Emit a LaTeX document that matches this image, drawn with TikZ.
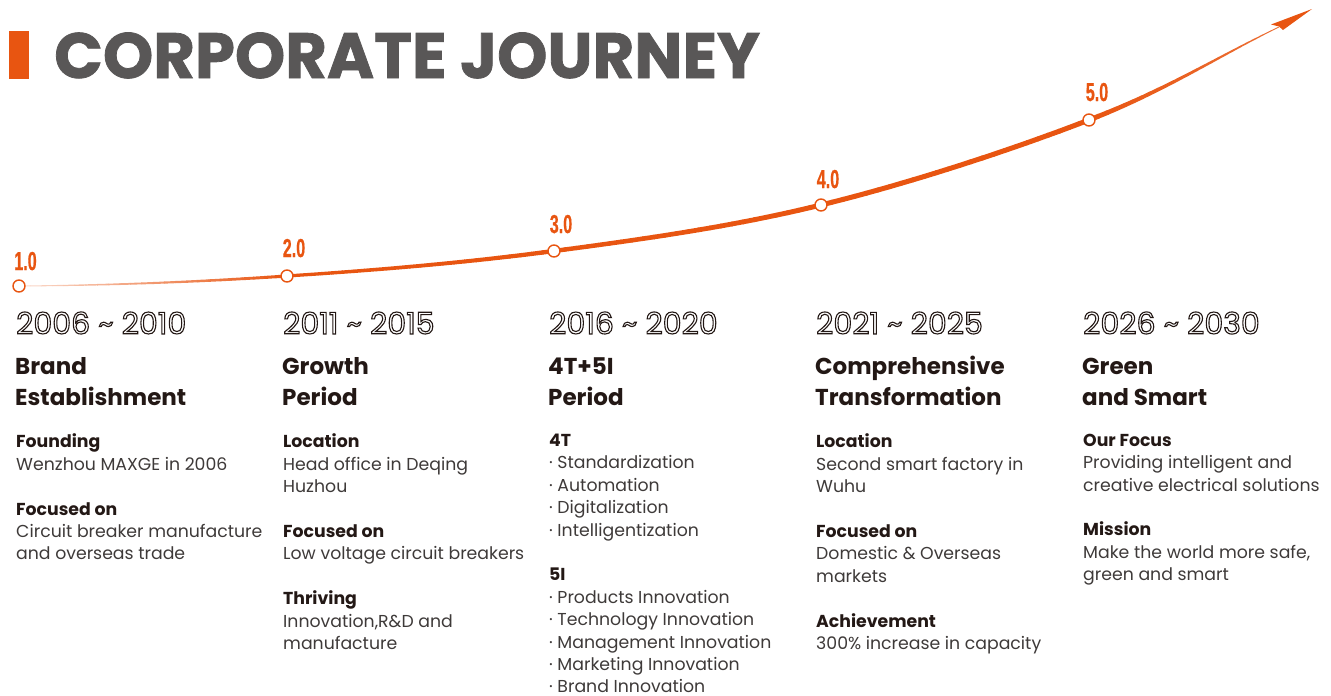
\documentclass[tikz,border=0pt]{standalone}
\usepackage{fontspec}
\setmainfont{Poppins}
\newfontfamily\titlefont[BoldFeatures={FakeBold=1.2}]{Poppins}
\newfontfamily\numfont[FakeStretch=0.62,BoldFeatures={FakeBold=0.6}]{Liberation Sans}
\definecolor{orng}{HTML}{E85511}
\definecolor{ttl}{HTML}{595757}
\definecolor{hd}{HTML}{231815}
\definecolor{bd}{HTML}{3E3A39}
\newcommand\outl[1]{\special{pdf:literal direct 1 Tr 1.1 w}#1\special{pdf:literal direct 0 Tr}}
% tapered cubic segment: \tseg(x0,y0)(x1,y1)(x2,y2)(x3,y3) using \wA \wB \cA \cB
\def\tseg(#1,#2)(#3,#4)(#5,#6)(#7,#8){%
  \foreach \k in {0,...,23}{%
    \pgfmathsetmacro\sA{\k/24}%
    \pgfmathsetmacro\sB{(\k+1)/24}%
    \pgfmathsetmacro\ux{(1-\sA)^3*#1+3*(1-\sA)^2*\sA*#3+3*(1-\sA)*\sA^2*#5+\sA^3*#7}%
    \pgfmathsetmacro\uy{(1-\sA)^3*#2+3*(1-\sA)^2*\sA*#4+3*(1-\sA)*\sA^2*#6+\sA^3*#8}%
    \pgfmathsetmacro\vx{(1-\sB)^3*#1+3*(1-\sB)^2*\sB*#3+3*(1-\sB)*\sB^2*#5+\sB^3*#7}%
    \pgfmathsetmacro\vy{(1-\sB)^3*#2+3*(1-\sB)^2*\sB*#4+3*(1-\sB)*\sB^2*#6+\sB^3*#8}%
    \pgfmathsetmacro\dux{(3*(1-\sA)^2*(#3-#1)+6*(1-\sA)*\sA*(#5-#3)+3*\sA^2*(#7-#5))/72}%
    \pgfmathsetmacro\duy{(3*(1-\sA)^2*(#4-#2)+6*(1-\sA)*\sA*(#6-#4)+3*\sA^2*(#8-#6))/72}%
    \pgfmathsetmacro\dvx{(3*(1-\sB)^2*(#3-#1)+6*(1-\sB)*\sB*(#5-#3)+3*\sB^2*(#7-#5))/72}%
    \pgfmathsetmacro\dvy{(3*(1-\sB)^2*(#4-#2)+6*(1-\sB)*\sB*(#6-#4)+3*\sB^2*(#8-#6))/72}%
    \pgfmathsetmacro\ww{\wA+(\wB-\wA)*(\k+0.5)/24}%
    \pgfmathtruncatemacro\cc{\cA+(\cB-\cA)*(\k+0.5)/24}%
    \draw[line width=\ww pt, line cap=round, orng!\cc!white] (\ux,\uy) .. controls (\ux+\dux,\uy+\duy) and (\vx-\dvx,\vy-\dvy) .. (\vx,\vy);
  }}
\tikzset{
  dotc/.style={circle, draw=orng, fill=white, line width=1.4pt, minimum size=12pt, inner sep=0pt},
  ver/.style={anchor=base, text=orng, inner sep=0pt, font=\numfont\bfseries\fontsize{26}{26}\selectfont},
  yr/.style={anchor=base west, inner sep=0pt, text=hd, font=\fontsize{30}{30}\selectfont},
  head/.style={anchor=base west, inner sep=0pt, text=hd, font=\bfseries\fontsize{23}{30.5}\selectfont},
  body/.style={anchor=base west, inner sep=0pt, text=bd, font=\fontsize{17.3}{22.4}\selectfont},
}
\newcommand\lab[1]{{\bfseries\color{hd}#1}}
\newcommand\col[1]{\parbox[t]{260pt}{\raggedright #1}}
\begin{document}
\begin{tikzpicture}[x=1pt,y=-1pt]
\useasboundingbox (0,0) rectangle (1331,696);
% title
\fill[orng] (9,31) rectangle (29,79);
\node[anchor=base west, inner sep=0pt, text=ttl, font=\titlefont\bfseries\fontsize{64}{64}\selectfont] (title) at (54,78) {CORPORATE JOURNEY};
% curve points
\coordinate (p0) at (19,286);
\coordinate (p1) at (287,276);
\coordinate (p2) at (554,251);
\coordinate (p3) at (821,205);
\coordinate (p4) at (1089,120);
\coordinate (p5) at (1279,27);
\def\wA{0.8}\def\wB{3.2}\def\cA{20}\def\cB{100}
\tseg(19,286)(108,285.4)(198,282)(287,276)
\def\wA{3.2}\def\wB{4.4}\def\cA{100}\def\cB{100}
\tseg(287,276)(376,270.2)(465,262.8)(554,251)
\def\wA{4.4}\def\wB{5}
\tseg(554,251)(643,239.2)(732,226.8)(821,205)
\def\wA{5}\def\wB{5}
\tseg(821,205)(910,183.2)(1012,149.7)(1089,120)
\def\wA{5}\def\wB{0.8}\def\cA{100}\def\cB{85}
\tseg(1089,120)(1166,90.3)(1217,57)(1279,27)
\coordinate (tip) at (1312,9);
\fill[orng] (tip) -- (1271,24.5) -- (1279,26.5) -- (1283,30) -- cycle;
% circles
\node[dotc] (c1) at (p0) {};
\node[dotc] (c2) at (p1) {};
\node[dotc] (c3) at (p2) {};
\node[dotc] (c4) at (p3) {};
\node[dotc] (c5) at (p4) {};
\node[ver] (v1) at (25.5,270) {1.0};
\node[ver] (v2) at (294,257) {2.0};
\node[ver] (v3) at (561,233) {3.0};
\node[ver] (v4) at (828,188) {4.0};
\node[ver] (v5) at (1097,101) {5.0};
% headings
\node[head] (h1) at (15,374.5) {\col{Brand\\Establishment}};
\node[head] (h2) at (282,374.5) {\col{Growth\\Period}};
\node[head] (h3) at (548,374.5) {\col{4T+5I\\Period}};
\node[head] (h4) at (815,374.5) {\col{Comprehensive\\Transformation}};
\node[head] (h5) at (1082,374.5) {\col{Green\\and Smart}};
% body
\node[body] (t1) at (16,434) {\col{\lab{Founding}\\Wenzhou MAXGE in 2006\\[22.4pt]\lab{Focused on}\\Circuit breaker manufacture\\and overseas trade}};
\node[body] (t2) at (283,434) {\col{\lab{Location}\\Head office in Deqing\\Huzhou\\[22.4pt]\lab{Focused on}\\Low voltage circuit breakers\\[22.4pt]\lab{Thriving}\\Innovation,R\&D and\\manufacture}};
\node[body] (t3) at (549,434) {\col{\lab{4T}\\· Standardization\\· Automation\\· Digitalization\\· Intelligentization\\[22.4pt]\lab{5I}\\· Products Innovation\\· Technology Innovation\\· Management Innovation\\· Marketing Innovation\\· Brand Innovation}};
\node[body] (t4) at (816,434) {\col{\lab{Location}\\Second smart factory in\\Wuhu\\[22.4pt]\lab{Focused on}\\Domestic \& Overseas\\markets\\[22.4pt]\lab{Achievement}\\300\% increase in capacity}};
\node[body] (t5) at (1083,434) {\col{\lab{Our Focus}\\Providing intelligent and\\creative electrical solutions\\[22.4pt]\lab{Mission}\\Make the world more safe,\\green and smart}};
% years
\node[yr] (y1) at (16,334) {\outl{2006 \textasciitilde{} 2010}};
\node[yr] (y2) at (283,334) {\outl{2011 \textasciitilde{} 2015}};
\node[yr] (y3) at (549,334) {\outl{2016 \textasciitilde{} 2020}};
\node[yr] (y4) at (816,334) {\outl{2021 \textasciitilde{} 2025}};
\node[yr] (y5) at (1083,334) {\outl{2026 \textasciitilde{} 2030}};
\end{tikzpicture}
\end{document}
